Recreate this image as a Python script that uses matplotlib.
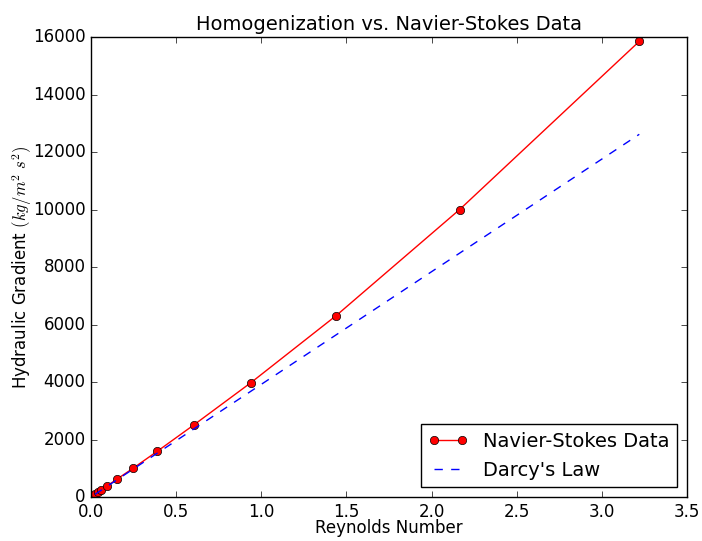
# Homogenization vs. Navier-Stokes comparison plot

import matplotlib
matplotlib.use("Agg")
import matplotlib.pyplot as plt

plt.style.use("classic")

# ----------------
# Data
# ----------------
reynolds = [0.024, 0.039, 0.061, 0.097, 0.155, 0.247, 0.388, 0.605, 0.94, 1.44, 2.165, 3.22]
ns_gradient = [100, 158, 251, 398, 631, 1000, 1585, 2512, 3981, 6310, 10000, 15849]
darcy_gradient = [94, 153, 239, 380, 607, 968, 1520, 2370, 3683, 5642, 8483, 12616]

# ----------------
# Plot
# ----------------
fig = plt.figure(figsize=(7.02, 5.41), dpi=100)
ax = fig.add_axes([0.1296, 0.0813, 0.849, 0.8503])

ax.plot(reynolds, ns_gradient, "r-o", markersize=6, markeredgecolor="k",
        markeredgewidth=0.5, label="Navier-Stokes Data")
ax.plot(reynolds, darcy_gradient, "b--", label="Darcy's Law")

ax.set_xlim(0, 3.5)
ax.set_ylim(0, 16000)
ax.set_xlabel("Reynolds Number", fontsize=12, labelpad=-1)
ax.set_ylabel(r"Hydraulic Gradient $(kg/m^2\ s^2)$", fontsize=12, labelpad=-1)
ax.set_title("Homogenization vs. Navier-Stokes Data", fontsize=14)
ax.tick_params(labelsize=12)
ax.legend(loc="lower right", numpoints=2, fontsize=14)

fig.savefig("out.png", dpi=100)
